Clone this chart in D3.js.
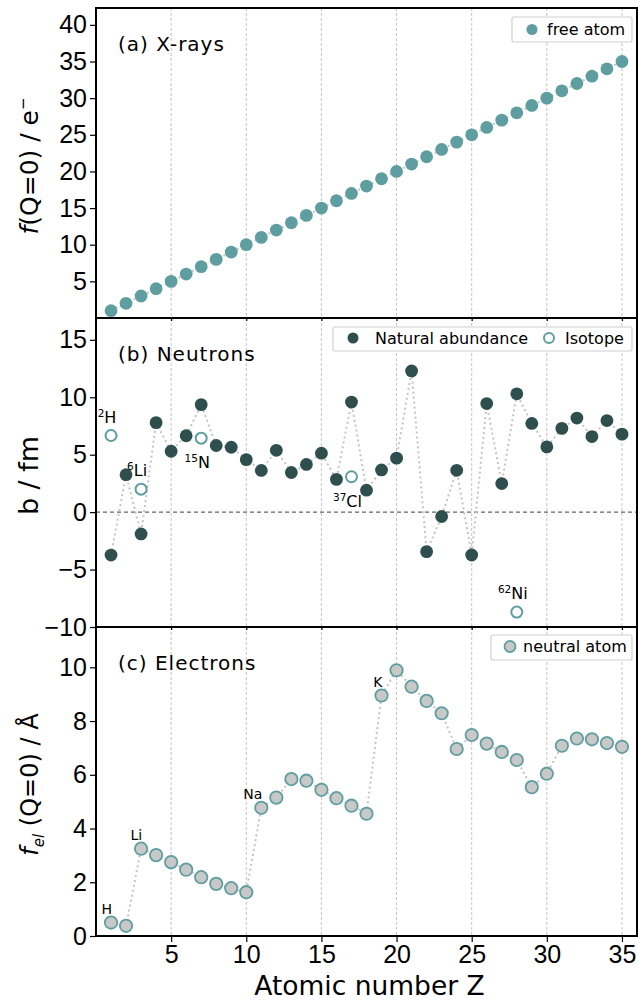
<!DOCTYPE html>
<html lang="en">
<head>
<meta charset="UTF-8">
<title>Scattering factors vs Z</title>
<style>
  body { margin: 0; background: #fff; }
  svg { font-family: "DejaVu Sans", Verdana, sans-serif; }
  .grid line { stroke: #c4c4c4; stroke-dasharray: 3,2; stroke-width: 1; }
  .frame { fill: none; stroke: #000; stroke-width: 2; }
  .conn { fill: none; stroke: #c4c4c4; stroke-width: 2; stroke-dasharray: 2,3; }
  .axis path { display: none; }
  .axis line { stroke: #000; stroke-width: 1.2; }
  .axis text { font-size: 25px; fill: #000; }
  .legend rect { fill: #fff; stroke: #d0d0d0; stroke-width: 1.2; }
</style>
</head>
<body>
<script src="https://d3js.org/d3.v7.min.js"></script>
<script>
// atomic numbers H..Br
const Z = [1,2,3,4,5,6,7,8,9,10,11,12,13,14,15,16,17,18,19,20,21,22,23,24,25,26,27,28,29,30,31,32,33,34,35];

// (a) x-ray form factor at Q=0, free atom
const fXray = [1,2,3,4,5,6,7,8,9,10,11,12,13,14,15,16,17,18,19,20,21,22,23,24,25,26,27,28,29,30,31,32,33,34,35];

// (b) neutron coherent scattering length, natural abundance (fm)
const bNat = [-3.74,3.26,-1.90,7.79,5.30,6.65,9.36,5.80,5.65,4.57,3.63,5.38,3.45,4.15,5.13,2.85,9.58,1.91,3.67,4.70,
              12.29,-3.44,-0.38,3.64,-3.73,9.45,2.49,10.30,7.72,5.68,7.29,8.19,6.58,7.97,6.79];
// isotopes
const isoZ = [1,3,7,17,28];
const isoB = [6.67,2.00,6.44,3.08,-8.70];
const isoMass = ["2","6","15","37","62"];
const isoSym = ["H","Li","N","Cl","Ni"];
const isoPos = ["above","above","below","below","above"];

// (c) electron scattering factor at Q=0, neutral atom (Å)
const fEl = [0.50,0.38,3.25,3.01,2.75,2.47,2.19,1.94,1.78,1.63,4.77,5.15,5.84,5.78,5.44,5.13,4.85,4.55,8.95,9.89,
             9.28,8.75,8.29,6.96,7.48,7.16,6.85,6.55,5.54,6.04,7.08,7.35,7.32,7.18,7.04];
const elLabelZ = [1,3,11,19];
const elLabelTxt = ["H","Li","Na","K"];

const xTicks = [5,10,15,20,25,30,35];

const W = 638, H = 1005;
const left = 96, right = 637;
const panels = [
  {top: 8, bottom: 318},
  {top: 318, bottom: 627},
  {top: 627, bottom: 936}
];

const teal = "#5f9ea0", dark = "#2f4f4f", grey = "#c8c8c8";

const svg = d3.select("body").append("svg").attr("width", W).attr("height", H);

const x = d3.scaleLinear().domain([0, 36]).range([left, right]);

const yA = d3.scaleLinear().domain([0, 42.3]).range([panels[0].bottom, panels[0].top]);
const yB = d3.scaleLinear().domain([-10, 16.9]).range([panels[1].bottom, panels[1].top]);
const yC = d3.scaleLinear().domain([0, 11.5]).range([panels[2].bottom, panels[2].top]);

const fmt = d => d < 0 ? "\u2212" + Math.abs(d) : String(d);

function panelBase(p, y, ticks) {
  const g = svg.append("g");
  // vertical grid
  g.append("g").attr("class", "grid").selectAll("line").data(xTicks).join("line")
    .attr("x1", d => x(d)).attr("x2", d => x(d))
    .attr("y1", p.top).attr("y2", p.bottom);
  // y axis
  svg.append("g").attr("class", "axis")
    .attr("transform", `translate(${left},0)`)
    .call(d3.axisLeft(y).tickValues(ticks).tickSize(6).tickPadding(3).tickFormat(fmt));
  return g;
}

function frame(p) {
  svg.append("rect").attr("class", "frame")
    .attr("x", left).attr("y", p.top)
    .attr("width", right - left).attr("height", p.bottom - p.top);
}

function panelTitle(p, txt) {
  svg.append("text").attr("x", 118).attr("y", p.top + 43)
    .attr("font-size", 20).attr("letter-spacing", 1).text(txt);
}

const line = y => d3.line().x((d, i) => x(Z[i])).y(d => y(d));

// ---------- (a) X-rays
panelBase(panels[0], yA, [5,10,15,20,25,30,35,40]);
svg.append("path").attr("class", "conn").attr("d", line(yA)(fXray));
svg.append("g").selectAll("circle").data(fXray).join("circle")
  .attr("cx", (d, i) => x(Z[i])).attr("cy", d => yA(d)).attr("r", 6.4)
  .attr("fill", teal);
panelTitle(panels[0], "(a) X-rays");

// ---------- (b) Neutrons
panelBase(panels[1], yB, [-10,-5,0,5,10,15]);
svg.append("line").attr("x1", left).attr("x2", right)
  .attr("y1", yB(0)).attr("y2", yB(0))
  .attr("stroke", "#666").attr("stroke-width", 1.2).attr("stroke-dasharray", "4,3");
svg.append("path").attr("class", "conn").attr("d", line(yB)(bNat));
svg.append("g").selectAll("circle").data(bNat).join("circle")
  .attr("cx", (d, i) => x(Z[i])).attr("cy", d => yB(d)).attr("r", 6.4)
  .attr("fill", dark);
svg.append("g").selectAll("circle").data(isoB).join("circle")
  .attr("cx", (d, i) => x(isoZ[i])).attr("cy", d => yB(d)).attr("r", 5.5)
  .attr("fill", "#fff").attr("stroke", teal).attr("stroke-width", 2);
const isoLab = svg.append("g").selectAll("text").data(isoB).join("text")
  .attr("x", (d, i) => x(isoZ[i]) - 4)
  .attr("y", (d, i) => isoPos[i] === "above" ? yB(d) - 13 : yB(d) + 30)
  .attr("text-anchor", "middle").attr("font-size", 16);
isoLab.append("tspan").attr("font-size", 10.5).attr("baseline-shift", "6").text((d, i) => isoMass[i]);
isoLab.append("tspan").text((d, i) => isoSym[i]);
panelTitle(panels[1], "(b) Neutrons");

// ---------- (c) Electrons
panelBase(panels[2], yC, [0,2,4,6,8,10]);
svg.append("path").attr("class", "conn").attr("d", line(yC)(fEl));
svg.append("g").selectAll("circle").data(fEl).join("circle")
  .attr("cx", (d, i) => x(Z[i])).attr("cy", d => yC(d)).attr("r", 6.2)
  .attr("fill", grey).attr("stroke", teal).attr("stroke-width", 1.8);
svg.append("g").selectAll("text").data(elLabelZ).join("text")
  .attr("x", d => x(d) + 1)
  .attr("y", d => yC(fEl[Z.indexOf(d)]) - 9)
  .attr("text-anchor", "end").attr("font-size", 14)
  .text((d, i) => elLabelTxt[i]);
panelTitle(panels[2], "(c) Electrons");

// x axis at the bottom
svg.append("g").attr("class", "axis")
  .attr("transform", `translate(0,${panels[2].bottom})`)
  .call(d3.axisBottom(x).tickValues(xTicks).tickSize(6).tickPadding(3));
// small outward ticks on the upper panels
[panels[0], panels[1]].forEach(p => {
  svg.append("g").attr("class", "axis")
    .attr("transform", `translate(0,${p.bottom})`)
    .call(d3.axisBottom(x).tickValues(xTicks).tickSize(3).tickFormat(""));
});

panels.forEach(frame);

svg.append("text").attr("x", (left + right) / 2 + 3).attr("y", 995)
  .attr("text-anchor", "middle").attr("font-size", 26.5).text("Atomic number Z");

// y labels
function yLabel(p, build, size) {
  const t = svg.append("text")
    .attr("transform", `translate(38,${(p.top + p.bottom) / 2 + 3}) rotate(-90)`)
    .attr("text-anchor", "middle").attr("font-size", size);
  build(t);
}
yLabel(panels[0], t => {
  t.append("tspan").attr("font-style", "italic").text("f");
  t.append("tspan").text("(Q=0) / e");
  t.append("tspan").attr("font-size", 15).attr("baseline-shift", "10").text("\u2212");
}, 25);
yLabel(panels[1], t => t.text("b / fm"), 27);
yLabel(panels[2], t => {
  t.append("tspan").attr("font-style", "italic").text("f");
  t.append("tspan").attr("font-style", "italic").attr("font-size", 15).attr("baseline-shift", "-6").text("el");
  t.append("tspan").text(" (Q=0) / \u00c5");
}, 24);

// legends
function legendBox(x0, y0, x1, y1) {
  const g = svg.append("g").attr("class", "legend");
  g.append("rect").attr("x", x0).attr("y", y0).attr("width", x1 - x0).attr("height", y1 - y0).attr("rx", 2);
  return g;
}
const la = legendBox(512, 17, 632, 42);
la.append("circle").attr("cx", 532).attr("cy", 29.5).attr("r", 5.5).attr("fill", teal);
la.append("text").attr("x", 547).attr("y", 35).attr("font-size", 16).text("free atom");

const lb = legendBox(333, 327, 632, 351);
lb.append("circle").attr("cx", 353).attr("cy", 338).attr("r", 5.5).attr("fill", dark);
lb.append("text").attr("x", 375).attr("y", 344).attr("font-size", 16).text("Natural abundance");
lb.append("circle").attr("cx", 549).attr("cy", 338).attr("r", 5).attr("fill", "#fff").attr("stroke", teal).attr("stroke-width", 2);
lb.append("text").attr("x", 565).attr("y", 344).attr("font-size", 16).text("Isotope");

const lc = legendBox(491, 635, 632, 660);
lc.append("circle").attr("cx", 510).attr("cy", 646.5).attr("r", 5.5).attr("fill", grey).attr("stroke", teal).attr("stroke-width", 1.8);
lc.append("text").attr("x", 523).attr("y", 652).attr("font-size", 16).text("neutral atom");
</script>
</body>
</html>
